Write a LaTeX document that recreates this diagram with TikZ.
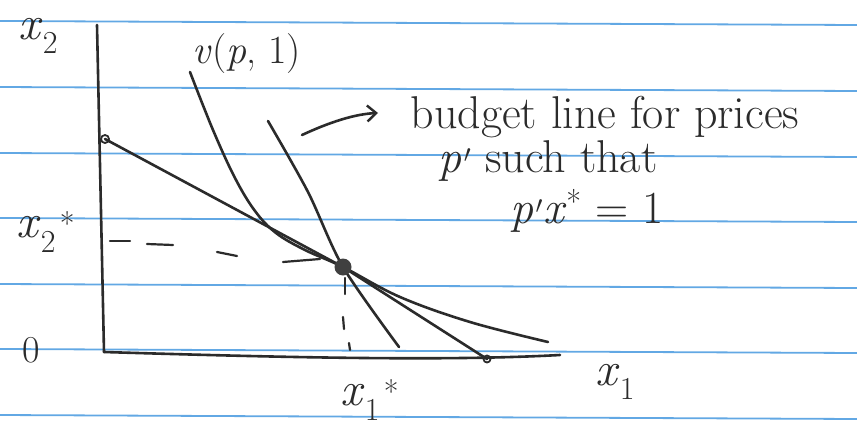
\documentclass[tikz,border=0pt]{standalone}
\usetikzlibrary{arrows.meta}
\definecolor{ink}{HTML}{2B2B2B}
\definecolor{ruleblue}{HTML}{62A8E4}
\newcommand{\vx}{\textit{x}}
\newcommand{\vp}{\textit{p}}
\newcommand{\substar}[1]{\vx\makebox[0pt][l]{\kern0.4em\raisebox{0.05em}{\fontsize{32}{32}\selectfont *}}\raisebox{-0.3em}{\fontsize{32}{32}\selectfont #1}}
\begin{document}
\begin{tikzpicture}[x=1pt,y=-1pt,
  inkline/.style={draw=ink,line width=2.6pt,line cap=round,line join=round},
  thinink/.style={draw=ink,line width=2.2pt,line cap=round},
  ruleline/.style={draw=ruleblue,line width=1.8pt},
  lbl/.style={text=ink,inner sep=0pt,font=\fontsize{48}{54}\selectfont},
  txt/.style={text=ink,inner sep=0pt,anchor=base,font=\fontsize{46}{52}\selectfont},
  endmark/.style={draw=ink,line width=1.8pt}]
\useasboundingbox (0,0) rectangle (857,434);
\fill[white] (0,0) rectangle (857,434);
% ruled paper
\foreach \yy in {21,87,153,218,284,349,415}
  \draw[ruleline] (0,\yy) -- (857,{\yy+4});
% key points
\coordinate (ytop) at (97,25);
\coordinate (O) at (104,352);
\coordinate (xend) at (560,355);
\coordinate (bA) at (105,139);
\coordinate (bB) at (487,359);
\coordinate (X) at (343,267);
\coordinate (icTop) at (190,72);
\coordinate (icEnd) at (548,342);
\coordinate (pTop) at (268,121);
\coordinate (pEnd) at (399,347);
\coordinate (arS) at (302,135);
\coordinate (arE) at (378,113);
% axes
\draw[inkline] (ytop) -- (O);
\draw[inkline] (O) .. controls (300,358) and (450,361) .. (xend);
% budget line through optimum
\draw[inkline] (bA) -- (X) -- (bB);
\draw[endmark] (bA) circle (4);
\draw[endmark] (bB) circle (3.5);
% indifference curve v(p,1)
\draw[inkline] plot[smooth,tension=0.6] coordinates {(icTop) (213,130) (235,178) (255,211) (276,233) (305,250) (X) (400,297) (470,322) (icEnd)};
% budget line for prices p'
\draw[inkline] plot[smooth,tension=0.5] coordinates {(pTop) (308,192) (X) (pEnd)};
% dashed guides
\foreach \a/\b in {{110,241}/{130,241},{147,244}/{173,245},{217,252}/{237,256},{283,262}/{320,259}}
  \draw[thinink] (\a) -- (\b);
\foreach \a/\b in {{345,278}/{345,294},{343,317}/{344,329},{349,343}/{350,350}}
  \draw[thinink] (\a) -- (\b);
% optimum
\fill[ink!90] (X) circle (8.5);
% arrow
\draw[inkline,-{Straight Barb[length=9pt,width=16pt,line width=2.4pt]}] (arS) .. controls (330,122) and (355,114) .. (arE);
% labels
\node[lbl] (lx2) at (38,36) {\vx\raisebox{-0.3em}{\fontsize{32}{32}\selectfont 2}};
\node[lbl] (lx2s) at (36,232) {\substar{2}};
\node[lbl,font=\fontsize{38}{42}\selectfont] (l0) at (31,350) {0};
\node[lbl] (lx1s) at (360,400) {\substar{1}};
\node[lbl] (lx1) at (615,382) {\vx\raisebox{-0.3em}{\fontsize{32}{32}\selectfont 1}};
\node[lbl,font=\fontsize{40}{46}\selectfont] (lv) at (247,54) {\textit{v}(\vp, 1)};
\node[txt] (t1) at (605,128) {budget line for prices};
\node[txt] (t2) at (548,172) {\vp\kern0.05em$'$ such that};
\node[txt] (t3) at (587,223) {\vp\kern0.05em$'$\vx\textsuperscript{*} = 1};
\end{tikzpicture}
\end{document}
